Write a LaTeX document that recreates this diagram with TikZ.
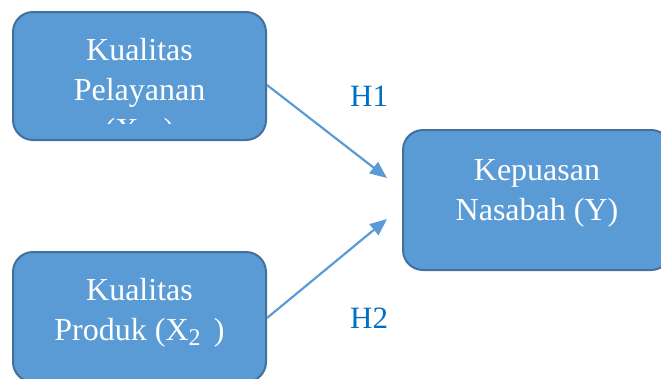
\documentclass[tikz,border=0pt]{standalone}
\usepackage{fontspec}
\setmainfont{Liberation Serif}
\usetikzlibrary{arrows.meta,calc}
\definecolor{boxfill}{HTML}{5B9BD5}
\definecolor{boxline}{HTML}{41719C}
\definecolor{lab}{HTML}{0070C0}
\newcommand{\mysub}[1]{\raisebox{-5pt}{\fontsize{24}{24}\selectfont #1}}
\begin{document}
\begin{tikzpicture}[x=1pt,y=-1pt,
  box/.style={draw=boxline, line width=2pt, fill=boxfill, rounded corners=20pt, inner sep=0pt},
  txt/.style={text=white, font=\fontsize{32}{38}\selectfont, anchor=base, inner sep=0pt},
  conn/.style={draw=boxfill, line width=2.2pt, -{Triangle[length=17pt,width=14pt]}},
  hyp/.style={text=lab, font=\fontsize{31}{36}\selectfont, anchor=base west, inner sep=0pt}]
\useasboundingbox (0,0) rectangle (661,378);
\node[box, minimum width=253pt, minimum height=128pt] (x1) at (139.5,76) {};
\node[box, minimum width=253pt, minimum height=130pt] (x2) at (139.5,317) {};
\node[box, minimum width=268pt, minimum height=140pt] (y) at (537,200) {};
\node[txt] (t1a) at (139.5,60) {Kualitas};
\node[txt] (t1b) at (139.5,100) {Pelayanan};
\begin{scope}
  \clip (0,0) rectangle (661,123);
  \node[txt] (t1c) at (139.5,140) {(X\mysub{1}\, )};
\end{scope}
\node[txt] (t2a) at (139.5,300) {Kualitas};
\node[txt] (t2b) at (139.5,340) {Produk (X\mysub{2}\, )};
\node[txt] (t3a) at (537,180) {Kepuasan};
\node[txt] (t3b) at (537,220) {Nasabah (Y)};
\coordinate (tip1) at ($(y.west)+(-15,-22)$);
\coordinate (tip2) at ($(y.west)+(-15,19)$);
\draw[conn] ($(x1.east)+(0,9)$) -- (tip1);
\draw[conn] ($(x2.east)+(0,1)$) -- (tip2);
\node[hyp] (h1) at (350,106) {H1};
\node[hyp] (h2) at (350,328) {H2};
\end{tikzpicture}
\end{document}
